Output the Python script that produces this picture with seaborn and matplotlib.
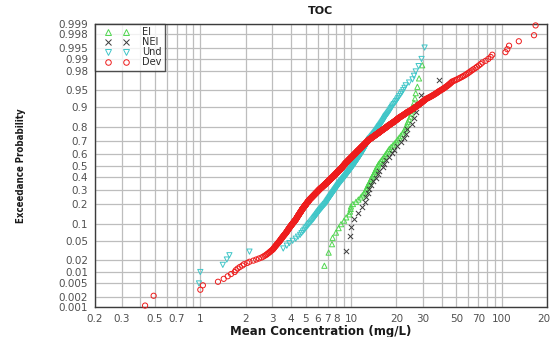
import numpy as np
import pandas as pd
import seaborn as sns
import matplotlib
matplotlib.use("Agg")
import matplotlib.pyplot as plt
import matplotlib.font_manager as fm
from matplotlib.lines import Line2D
from matplotlib.legend_handler import HandlerLine2D
from matplotlib.ticker import NullLocator
from statistics import NormalDist

# ---- sample concentrations (mg/L) for each land-use group ----
ei_conc = [
    6.66, 7.11, 7.48, 7.55, 7.95, 8.28, 8.59, 9.00, 9.30, 9.75,
    9.85, 9.95, 10.0, 10.3, 10.8, 11.2, 11.6, 11.9, 12.2, 12.4,
    12.6, 12.8, 12.9, 13.1, 13.3, 13.5, 13.6, 13.8, 14.0, 14.2,
    14.4, 14.5, 14.7, 14.9, 15.1, 15.3, 15.6, 15.9, 16.2, 16.5,
    16.8, 17.1, 17.4, 17.7, 18.0, 18.5, 19.0, 19.5, 20.0, 20.4,
    20.9, 21.4, 22.0, 22.4, 22.8, 23.2, 23.5, 23.8, 24.3, 24.8,
    25.2, 25.6, 25.9, 26.2, 26.6, 26.9, 27.6, 28.3, 29.7,
]

nei_conc = [
    9.28, 9.90, 10.0, 10.5, 11.1, 11.9, 12.3, 12.6, 12.9, 13.2,
    13.6, 13.9, 14.6, 15.0, 15.4, 16.2, 16.6, 17.0, 17.9, 18.7,
    19.3, 20.3, 21.4, 22.5, 23.2, 23.7, 25.6, 26.3, 27.0, 27.8,
    29.0, 38.5,
]

und_conc = [
    0.98, 1.00, 1.41, 1.50, 1.56, 2.12, 3.55, 3.75, 3.90,
    4.10, 4.30, 4.45, 4.60, 4.70, 4.80, 4.90,
    4.99, 5.08, 5.17, 5.25, 5.34, 5.43, 5.51, 5.60,
    5.67, 5.74, 5.81, 5.88, 5.95, 6.02, 6.08, 6.15, 6.22, 6.29, 6.36, 6.43, 6.50,
    6.57, 6.65, 6.72, 6.80,
    6.86, 6.91, 6.97, 7.02, 7.08, 7.13, 7.19, 7.24, 7.30, 7.35,
    7.41, 7.46, 7.52, 7.57, 7.63, 7.68, 7.74, 7.79, 7.85, 7.90,
    7.96, 8.01, 8.07, 8.12, 8.18, 8.23, 8.29, 8.34, 8.40,
    8.46, 8.53, 8.59, 8.66, 8.72, 8.79, 8.85, 8.92, 8.98, 9.05,
    9.11, 9.18, 9.24, 9.31, 9.37, 9.44, 9.50, 9.57, 9.63, 9.70,
    9.76, 9.83, 9.89, 9.96, 10.02, 10.09, 10.15, 10.22, 10.28, 10.35,
    10.41, 10.48, 10.54, 10.61, 10.67, 10.74, 10.80,
    10.87, 10.93, 11.00, 11.07, 11.13, 11.20, 11.27, 11.33, 11.40, 11.47,
    11.53, 11.60, 11.67, 11.73, 11.80, 11.87, 11.93, 12.00, 12.07, 12.13,
    12.20, 12.27, 12.33, 12.40, 12.47, 12.53, 12.60, 12.67, 12.73, 12.80,
    12.87, 12.93, 13.00, 13.07, 13.13, 13.20,
    13.32, 13.44, 13.57, 13.69, 13.81, 13.93, 14.06, 14.18, 14.30, 14.42,
    14.54, 14.67, 14.79, 14.91, 15.03, 15.16, 15.28, 15.40,
    15.55, 15.69, 15.84, 15.98, 16.13, 16.27, 16.42, 16.56, 16.71, 16.85, 17.00,
    17.21, 17.42, 17.63, 17.84, 18.06, 18.27, 18.48, 18.69, 18.90,
    19.23, 19.57, 19.90, 20.23, 20.57, 20.90,
    21.34, 21.78, 22.22, 22.66, 23.10,
    24.3, 25.6, 26.2, 26.9, 28.1, 29.4, 30.8,
]

dev_conc = [
    0.43, 0.49, 1.00, 1.04, 1.31, 1.43, 1.52, 1.60, 1.69, 1.72,
    1.77, 1.83, 1.90, 1.95, 2.05, 2.12, 2.25, 2.35, 2.45, 2.55,
    2.62, 2.68, 2.74, 2.78, 2.83, 2.87, 2.91, 2.95, 2.99, 3.03,
    3.05, 3.08, 3.10, 3.12, 3.15, 3.17, 3.19, 3.22, 3.24, 3.26,
    3.28, 3.31, 3.33, 3.35, 3.37, 3.39, 3.41, 3.42, 3.44, 3.46,
    3.48, 3.50, 3.51, 3.53, 3.55, 3.57, 3.59, 3.60, 3.62, 3.64,
    3.66, 3.68, 3.69, 3.71,
    3.72, 3.74, 3.75, 3.77, 3.78, 3.79, 3.81, 3.82, 3.83, 3.85,
    3.86, 3.87, 3.89, 3.90, 3.92, 3.93, 3.94, 3.96, 3.97, 3.98,
    4.00, 4.01, 4.03, 4.04, 4.05, 4.07, 4.08, 4.10, 4.11, 4.12,
    4.14, 4.15, 4.16, 4.18, 4.19, 4.20, 4.22, 4.23, 4.25, 4.26, 4.27, 4.29, 4.30,
    4.31, 4.32, 4.33, 4.34, 4.35, 4.36, 4.37, 4.38, 4.39, 4.40,
    4.41, 4.42, 4.43, 4.44, 4.45, 4.46, 4.47, 4.48, 4.49, 4.50,
    4.51, 4.52, 4.53, 4.54, 4.55, 4.56, 4.57, 4.58, 4.59, 4.60,
    4.61, 4.62, 4.63, 4.64, 4.65, 4.66, 4.67, 4.68, 4.69, 4.70, 4.71, 4.71, 4.72,
    4.73, 4.74, 4.75, 4.76, 4.77, 4.78, 4.80, 4.81, 4.82, 4.83,
    4.84, 4.85, 4.86, 4.87, 4.88, 4.89, 4.90, 4.91, 4.92, 4.93,
    4.94, 4.96, 4.97, 4.98, 4.99, 5.00, 5.01, 5.02, 5.03, 5.04,
    5.05, 5.06, 5.07, 5.08, 5.09, 5.10, 5.12, 5.13, 5.14, 5.15,
    5.16, 5.17, 5.18, 5.19, 5.20, 5.21, 5.22, 5.23, 5.24, 5.25,
    5.26, 5.27, 5.28, 5.29, 5.30,
    5.31, 5.33, 5.34, 5.36, 5.37, 5.38, 5.40, 5.41, 5.42, 5.44,
    5.45, 5.46, 5.48, 5.49, 5.50, 5.52, 5.53, 5.54, 5.56, 5.57,
    5.58, 5.60, 5.61, 5.62, 5.64, 5.65, 5.66, 5.68, 5.69, 5.70,
    5.72, 5.73, 5.74, 5.76, 5.77, 5.78, 5.80, 5.81, 5.82, 5.84,
    5.85, 5.86, 5.88, 5.89, 5.90, 5.92, 5.93, 5.94, 5.96, 5.97,
    5.98, 6.00, 6.01, 6.02, 6.04, 6.05, 6.06, 6.08, 6.09, 6.10,
    6.12, 6.13, 6.14, 6.16, 6.17,
    6.18, 6.20, 6.21, 6.23, 6.24, 6.26, 6.27, 6.29, 6.30, 6.32,
    6.33, 6.35, 6.37, 6.38, 6.40, 6.41, 6.43, 6.44, 6.46, 6.47,
    6.49, 6.50, 6.52, 6.53, 6.55, 6.56, 6.58, 6.60, 6.61, 6.63,
    6.64, 6.66, 6.67, 6.69, 6.70, 6.72, 6.73, 6.75, 6.76, 6.78,
    6.80, 6.81, 6.83, 6.84, 6.86, 6.87, 6.89, 6.90, 6.92, 6.93,
    6.95, 6.96, 6.98, 7.00, 7.01, 7.03, 7.04, 7.06, 7.07, 7.09,
    7.10, 7.12, 7.13, 7.15, 7.16, 7.18, 7.20, 7.21, 7.23, 7.24,
    7.26, 7.27, 7.29, 7.30, 7.32, 7.33, 7.35, 7.36, 7.38, 7.40,
    7.41, 7.43, 7.44, 7.46, 7.47, 7.49, 7.50, 7.52, 7.53, 7.55,
    7.56, 7.58, 7.60, 7.61, 7.63, 7.64, 7.66, 7.67, 7.69, 7.70,
    7.72, 7.73, 7.75, 7.76, 7.78, 7.80, 7.81, 7.83, 7.84, 7.86,
    7.87, 7.89, 7.90, 7.92, 7.93, 7.95, 7.96, 7.98, 8.00, 8.01,
    8.03, 8.04, 8.06, 8.07, 8.09, 8.10, 8.12, 8.13, 8.15, 8.16,
    8.18, 8.20, 8.21, 8.23, 8.24, 8.26, 8.27, 8.29, 8.30, 8.32,
    8.33, 8.35, 8.36, 8.38, 8.40, 8.41, 8.43, 8.44, 8.46, 8.47,
    8.49, 8.50, 8.52, 8.53, 8.55, 8.56, 8.58, 8.60, 8.61, 8.63,
    8.64, 8.66, 8.67, 8.69, 8.70, 8.72, 8.73, 8.75, 8.76, 8.78,
    8.80, 8.81, 8.83, 8.84, 8.86, 8.87, 8.89, 8.90, 8.92, 8.93,
    8.95, 8.96, 8.98, 9.00, 9.01, 9.03, 9.04, 9.06, 9.07, 9.09,
    9.10, 9.12, 9.13, 9.15, 9.16, 9.18, 9.20, 9.21, 9.23, 9.24,
    9.26,
    9.28, 9.30, 9.32, 9.34, 9.35, 9.37, 9.39, 9.41, 9.43, 9.45,
    9.47, 9.48, 9.50, 9.52, 9.54, 9.56, 9.58, 9.60, 9.61, 9.63,
    9.65, 9.67, 9.69, 9.71, 9.73, 9.74, 9.76, 9.78, 9.80,
    9.82, 9.84, 9.86, 9.88, 9.90, 9.92, 9.94, 9.96, 9.98, 10.00,
    10.02, 10.04, 10.06, 10.08, 10.10, 10.12, 10.14, 10.16, 10.18, 10.20,
    10.22, 10.24, 10.26, 10.28, 10.30, 10.32, 10.34, 10.36, 10.38, 10.40,
    10.42, 10.44, 10.46, 10.49, 10.51, 10.53, 10.55, 10.57, 10.59, 10.61,
    10.63, 10.66, 10.68, 10.70, 10.72, 10.74, 10.76, 10.78, 10.81, 10.83,
    10.85, 10.87, 10.89, 10.91, 10.93, 10.95, 10.98, 11.00, 11.02, 11.04,
    11.06, 11.09, 11.11, 11.14, 11.16, 11.18, 11.21, 11.23, 11.25, 11.28,
    11.30, 11.33, 11.35, 11.37, 11.40, 11.42, 11.44, 11.47, 11.49, 11.52,
    11.54, 11.56, 11.59, 11.61, 11.63, 11.66, 11.68, 11.70, 11.73, 11.75,
    11.78, 11.80, 11.83, 11.85, 11.88, 11.91, 11.93, 11.96, 11.98, 12.01,
    12.04, 12.06, 12.09, 12.11, 12.14, 12.17, 12.19, 12.22, 12.24, 12.27,
    12.30, 12.32, 12.35, 12.37, 12.40, 12.43, 12.45, 12.48, 12.50, 12.53,
    12.56, 12.59, 12.62, 12.65, 12.68, 12.71, 12.73, 12.76, 12.79, 12.82,
    12.85, 12.88, 12.91, 12.94, 12.97, 13.00, 13.02, 13.05, 13.08, 13.11,
    13.14, 13.17, 13.20,
    13.24, 13.29, 13.33, 13.38, 13.42, 13.47, 13.51, 13.56, 13.60, 13.65,
    13.69, 13.74, 13.78, 13.83, 13.87, 13.92, 13.96, 14.01, 14.05, 14.10,
    14.14, 14.19, 14.23, 14.28, 14.32, 14.37, 14.41,
    14.46, 14.52, 14.57, 14.62, 14.67, 14.72, 14.78, 14.83, 14.88, 14.93,
    14.99, 15.04, 15.09, 15.14, 15.20, 15.25, 15.30, 15.35, 15.40, 15.46,
    15.51, 15.56, 15.61, 15.67, 15.72, 15.77, 15.82, 15.88, 15.93, 15.98,
    16.04, 16.11, 16.17, 16.23, 16.30, 16.36, 16.42, 16.48, 16.55, 16.61,
    16.67, 16.74, 16.80, 16.86, 16.93, 16.99, 17.05, 17.11, 17.18, 17.24,
    17.30, 17.37, 17.43, 17.49, 17.56, 17.62, 17.68, 17.74, 17.81, 17.87,
    17.95, 18.03, 18.12, 18.20, 18.28, 18.36, 18.44, 18.53, 18.61, 18.69,
    18.77, 18.85, 18.94, 19.02, 19.10, 19.18, 19.26, 19.35, 19.43, 19.51,
    19.59, 19.67, 19.76, 19.84, 19.92, 20.00, 20.08, 20.17, 20.25, 20.33,
    20.41, 20.49, 20.58, 20.66, 20.74, 20.82, 20.90,
    21.02, 21.14, 21.26, 21.38, 21.50, 21.62, 21.74, 21.86, 21.98, 22.10,
    22.22, 22.34, 22.46, 22.58, 22.70, 22.82, 22.94, 23.06, 23.18, 23.30,
    23.42, 23.54, 23.66,
    23.83, 23.99, 24.16, 24.32, 24.49, 24.66, 24.82, 24.99, 25.15, 25.32,
    25.49, 25.65, 25.82, 25.98, 26.15, 26.32, 26.48, 26.65, 26.81, 26.98,
    27.15, 27.31, 27.48, 27.64, 27.81, 27.97, 28.14, 28.30,
    28.49, 28.69, 28.88, 29.08, 29.27, 29.46, 29.66, 29.85, 30.04, 30.24,
    30.43, 30.62, 30.82, 31.01, 31.21, 31.40,
    31.77, 32.15, 32.52, 32.90, 33.27, 33.64, 34.02, 34.39, 34.76, 35.14,
    35.51, 35.88, 36.26, 36.63, 37.01, 37.38, 37.75, 38.13, 38.50,
    39.0, 39.5, 40.0, 40.5, 41.0, 41.5, 42.0, 42.5, 43.0, 43.5,
    44.0, 44.5, 45.0, 45.5, 46.0, 46.5, 47.0,
    48.2, 49.4, 50.6, 51.8, 53.0, 54.3, 55.5, 56.8, 58.1, 59.4, 60.7,
    62.0, 63.5, 65.0, 67.0, 68.6, 70.6, 72.6, 74.5, 78.3, 81.5, 84.6, 86.7,
    106.0, 109.0, 112.0, 130.0, 164.0, 168.0,
]

group_names = ["EI", "NEI", "Und", "Dev"]
group_values = [ei_conc, nei_conc, und_conc, dev_conc]

prob_ticks = [0.001, 0.002, 0.005, 0.01, 0.02, 0.05, 0.1, 0.2, 0.3, 0.4, 0.5,
              0.6, 0.7, 0.8, 0.9, 0.95, 0.98, 0.99, 0.995, 0.998, 0.999]
prob_labels = ["0.001", "0.002", "0.005", "0.01", "0.02", "0.05", "0.1", "0.2",
               "0.3", "0.4", "0.5", "0.6", "0.7", "0.8", "0.9", "0.95", "0.98",
               "0.99", "0.995", "0.998", "0.999"]
conc_labelled = [0.2, 0.3, 0.5, 0.7, 1, 2, 3, 4, 5, 6, 7, 8, 10, 20, 30, 50, 70, 100, 200]
conc_labels = ["0.2", "0.3", "0.5", "0.7", "1", "2", "3", "4", "5", "6", "7", "8",
               "10", "20", "30", "50", "70", "100", "200"]

nd = NormalDist()


def plotting_positions(values):
    """Sorted values with Weibull plotting positions on the normal-quantile scale."""
    v = np.sort(np.asarray(values, dtype=float))
    n = len(v)
    p = np.arange(1, n + 1) / (n + 1.0)
    return v, np.array([nd.inv_cdf(q) for q in p])


frames = []
for name, vals in zip(group_names, group_values):
    x, z = plotting_positions(vals)
    frames.append(pd.DataFrame({"conc": x, "z": z, "group": name}))
df = pd.concat(frames, ignore_index=True)

sns.set_theme(style="white")
plt.rcParams["font.family"] = ["DejaVu Sans"]

W, H = 550, 337
fig = plt.figure(figsize=(W / 100, H / 100), dpi=100)
left, right, top, bottom = 95, 547, 24, 307
ax = fig.add_axes([left / W, 1 - bottom / H, (right - left) / W, (bottom - top) / H])

styles = {
    "EI": dict(marker="^", color="#4fd64f"),
    "NEI": dict(marker="x", color="#3a3a3a"),
    "Und": dict(marker="v", color="#40c6c8"),
    "Dev": dict(marker="o", color="#ee1c1c"),
}
msize = 14
for name in group_names:
    st = styles[name]
    sub = df[df["group"] == name]
    if st["marker"] == "x":
        sns.scatterplot(data=sub, x="conc", y="z", ax=ax, marker="x",
                        color=st["color"], s=msize, linewidth=0.7,
                        legend=False, clip_on=False, zorder=3)
    else:
        sns.scatterplot(data=sub, x="conc", y="z", ax=ax, marker=st["marker"],
                        color=st["color"], facecolor="none",
                        edgecolor=st["color"], s=msize, linewidth=0.7,
                        legend=False, clip_on=False, zorder=3)

ax.set_xscale("log")
ax.set_xlim(0.2, 200)
ax.set_ylim(nd.inv_cdf(0.001), nd.inv_cdf(0.999))

# vertical grid at every 1-9 multiple of each decade
grid_x = [m * 10.0 ** e for e in (-1, 0, 1, 2) for m in range(1, 10)
          if 0.2 - 1e-9 <= m * 10.0 ** e <= 200 + 1e-9]
label_map = {round(v, 6): lab for v, lab in zip(conc_labelled, conc_labels)}
ax.set_xticks(grid_x)
ax.set_xticklabels([label_map.get(round(v, 6), "") for v in grid_x])
ax.xaxis.set_minor_locator(NullLocator())
ax.set_yticks([nd.inv_cdf(p) for p in prob_ticks])
ax.set_yticklabels(prob_labels)
ax.yaxis.set_minor_locator(NullLocator())

ax.grid(True, which="major", color="#bdbdbd", linewidth=0.9)
ax.set_axisbelow(True)
for sp in ax.spines.values():
    sp.set_visible(True)
    sp.set_color("#3c3c3c")
    sp.set_linewidth(1.0)
ax.tick_params(axis="both", which="major", labelsize=7.5, colors="#3c3c3c",
               length=2, width=0.8, pad=3, labelcolor="#505050")

ax.set_xlabel("Mean Concentration (mg/L)", fontsize=8.5, fontweight="bold",
              color="#1a1a1a", labelpad=1)

# condensed bold face for the vertical axis title, when one is installed
narrow_file = None
for f in fm.fontManager.ttflist:
    nm = f.name.lower()
    is_narrow = ("narrow" in nm or "condensed" in nm
                 or str(f.stretch) in ("condensed", "semi-condensed", "extra-condensed"))
    is_bold = str(f.weight) in ("bold", "700", "heavy", "800")
    if is_narrow and is_bold:
        narrow_file = f.fname
        break
if narrow_file:
    ylab_font = fm.FontProperties(fname=narrow_file, size=6.9)
else:
    ylab_font = fm.FontProperties(family="Liberation Sans", weight="bold", size=6.5)
ax.set_ylabel("Exceedance Probability", fontproperties=ylab_font,
              color="#1a1a1a", labelpad=23)
ax.set_title("TOC", fontsize=8, fontweight="bold", color="#1a1a1a", pad=7)

handles = []
for name in group_names:
    st = styles[name]
    if st["marker"] == "x":
        h = Line2D([], [], linestyle="none", marker="x", color=st["color"],
                   markersize=4, markeredgewidth=0.7)
    else:
        h = Line2D([], [], linestyle="none", marker=st["marker"],
                   markerfacecolor="none", markeredgecolor=st["color"],
                   markersize=4, markeredgewidth=0.7)
    handles.append(h)
leg = ax.legend(handles, group_names, loc="upper left",
                handler_map={Line2D: HandlerLine2D(numpoints=2, marker_pad=1.0)},
                frameon=True, fancybox=False, borderaxespad=0, fontsize=7,
                handlelength=3.8, handletextpad=0.65, labelspacing=0.0,
                borderpad=0.35)
leg.get_frame().set_edgecolor("#2a2a2a")
leg.get_frame().set_linewidth(1.0)
for t in leg.get_texts():
    t.set_color("#2a2a2a")

fig.savefig("out.png", dpi=100)
